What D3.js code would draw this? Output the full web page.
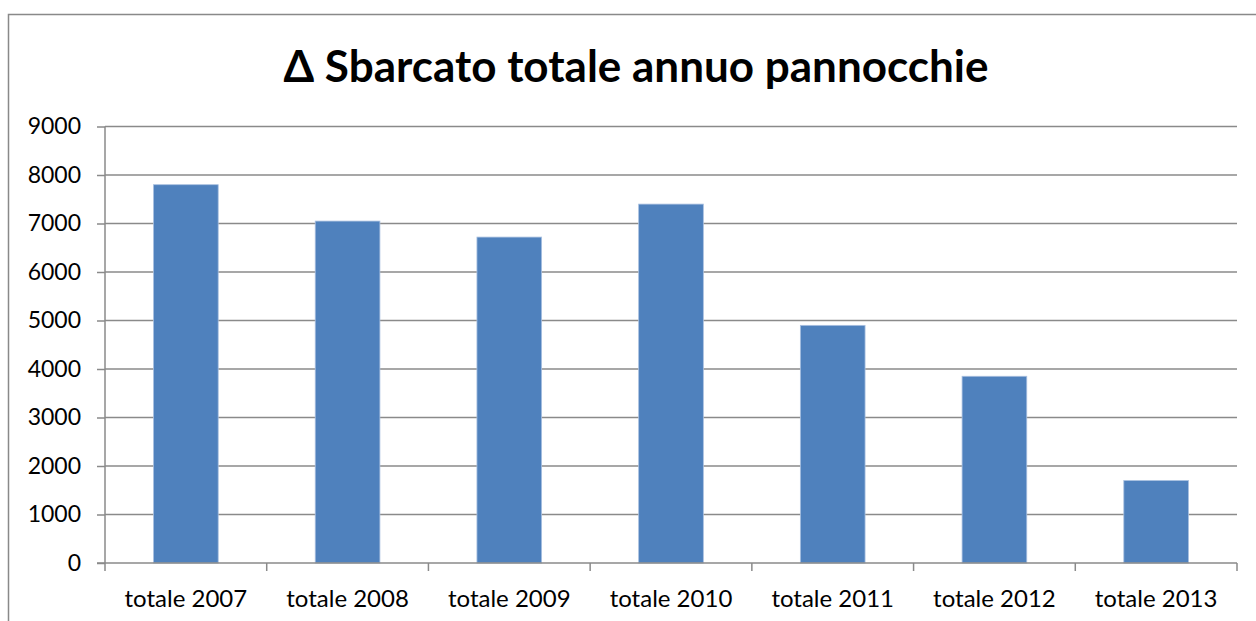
<!DOCTYPE html>
<html>
<head>
<meta charset="utf-8">
<script src="https://cdn.jsdelivr.net/npm/d3@7"></script>
<style>
  html, body { margin: 0; padding: 0; background: #fff; }
  svg { display: block; }
</style>
</head>
<body>
<svg id="chart" width="1256" height="621"></svg>
<script>
// Annual landed catch by year
const categories = ["totale 2007", "totale 2008", "totale 2009", "totale 2010", "totale 2011", "totale 2012", "totale 2013"];
const values = [7800, 7050, 6720, 7400, 4900, 3850, 1700];
const yTicks = [0, 1000, 2000, 3000, 4000, 5000, 6000, 7000, 8000, 9000];
const title = "Δ Sbarcato totale annuo pannocchie";

const svg = d3.select("#chart");
const W = 1256, H = 621;
const plot = { left: 105, right: 1237, top: 126.5, bottom: 563 };
const font = "Lato, 'Open Sans', 'Liberation Sans', sans-serif";

// outer chart frame
svg.append("rect")
  .attr("x", 8.5).attr("y", 14.5)
  .attr("width", W + 10).attr("height", H + 10)
  .attr("fill", "#fff").attr("stroke", "#898989").attr("stroke-width", 1.5);

const x = d3.scaleBand().domain(categories).range([plot.left, plot.right]).paddingInner(0.6).paddingOuter(0.3);
const y = d3.scaleLinear().domain([0, 9000]).range([plot.bottom, plot.top]);

// horizontal gridlines
svg.append("g")
  .selectAll("line")
  .data(yTicks.filter(t => t > 0))
  .join("line")
  .attr("x1", plot.left).attr("x2", plot.right)
  .attr("y1", d => y(d)).attr("y2", d => y(d))
  .attr("stroke", "#8a8a8a").attr("stroke-width", 1.5);

// bars
svg.append("g")
  .selectAll("rect")
  .data(values)
  .join("rect")
  .attr("x", (d, i) => x(categories[i]))
  .attr("width", x.bandwidth())
  .attr("y", d => y(d))
  .attr("height", d => y(0) - y(d))
  .attr("fill", "#4f81bd")
  .attr("stroke", "#a9c0e0").attr("stroke-width", 0.8);

// y axis
const yAxis = d3.axisLeft(y).tickValues(yTicks).tickSize(8).tickPadding(16).tickFormat(d3.format("d"));
const gy = svg.append("g").attr("transform", `translate(${plot.left},0)`).call(yAxis);
gy.select(".domain").attr("stroke", "#8a8a8a").attr("stroke-width", 1.5).attr("d", `M0,${plot.top}V${plot.bottom}`);
gy.selectAll(".tick line").attr("stroke", "#8a8a8a").attr("stroke-width", 1.5);
gy.selectAll(".tick text").attr("font-family", font).attr("font-size", 23).attr("fill", "#000");

// x axis with boundary ticks between categories
const gx = svg.append("g").attr("transform", `translate(0,${plot.bottom})`);
gx.append("line").attr("x1", plot.left - 8).attr("x2", plot.right)
  .attr("y1", 0).attr("y2", 0).attr("stroke", "#8a8a8a").attr("stroke-width", 1.5);
const edge = d3.scaleLinear().domain([0, categories.length]).range([plot.left, plot.right]);
gx.selectAll(".bt").data(d3.range(categories.length + 1)).join("line")
  .attr("x1", i => edge(i)).attr("x2", i => edge(i))
  .attr("y1", 0).attr("y2", 8)
  .attr("stroke", "#8a8a8a").attr("stroke-width", 1.5);
gx.selectAll("text").data(categories).join("text")
  .attr("x", d => x(d) + x.bandwidth() / 2)
  .attr("y", 44)
  .attr("text-anchor", "middle")
  .attr("font-family", font).attr("font-size", 24).attr("fill", "#000")
  .text(d => d);

// title
svg.append("text")
  .attr("x", 636).attr("y", 82)
  .attr("text-anchor", "middle")
  .attr("font-family", font).attr("font-weight", "bold").attr("font-size", 44)
  .attr("fill", "#000")
  .text(title);
</script>
</body>
</html>
